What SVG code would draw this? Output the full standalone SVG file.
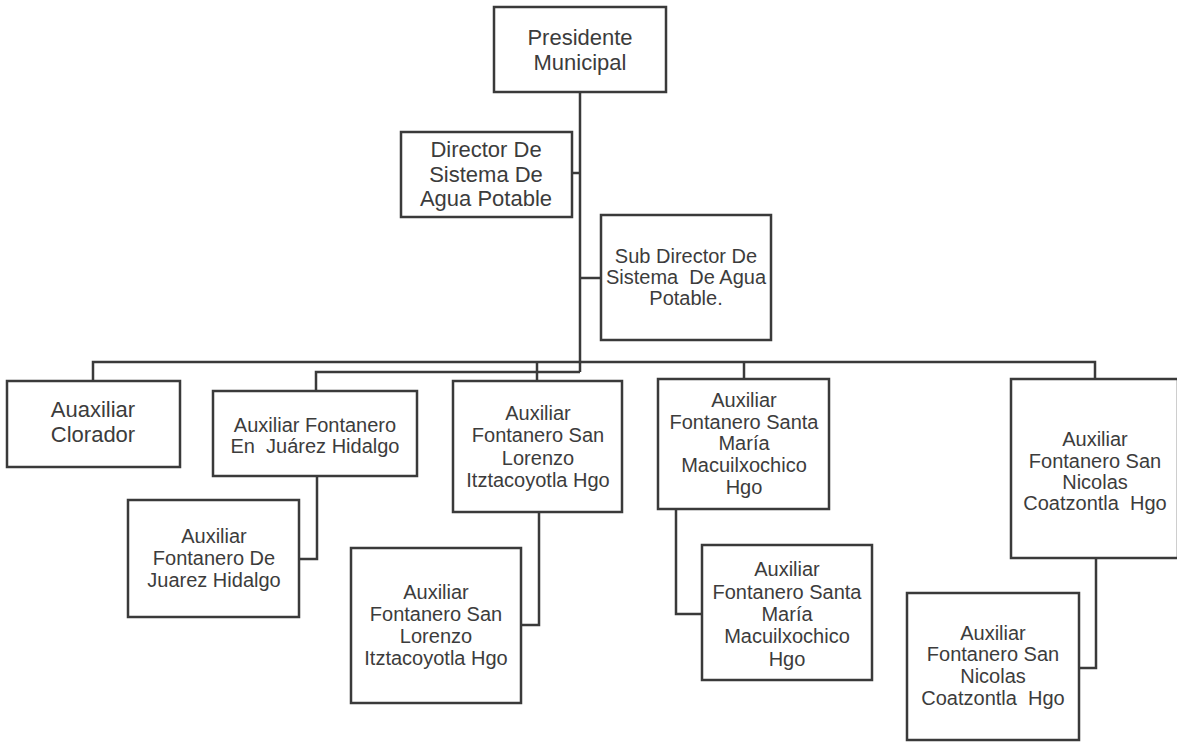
<svg xmlns="http://www.w3.org/2000/svg" width="1177" height="742" viewBox="0 0 1177 742">
  <style>
    .box { fill: #ffffff; stroke: #3a3a3a; stroke-width: 2.5; }
    .wire { fill: none; stroke: #3a3a3a; stroke-width: 2.5; }
    text { font-family: "Liberation Sans", Arial, sans-serif; fill: #3c3c3c; text-anchor: middle; white-space: pre; }
    .big { font-size: 22px; }
    .mid { font-size: 20px; }
  </style>
  <rect width="1177" height="742" fill="#ffffff"/>

  <!-- connectors -->
  <g id="connectors">
    <path class="wire" d="M580 92 V372"/>
    <path class="wire" d="M572 173 H580"/>
    <path class="wire" d="M580 278 H601"/>
    <path class="wire" d="M93 381 V362 H1095 V379"/>
    <path class="wire" d="M316 391 V372 H580"/>
    <path class="wire" d="M537 362 V381"/>
    <path class="wire" d="M744 362 V379"/>
    <path class="wire" d="M317 476 V559 H299"/>
    <path class="wire" d="M539 512 V625 H521"/>
    <path class="wire" d="M676 509 V614 H702"/>
    <path class="wire" d="M1096 558 V668 H1079"/>
  </g>

  <g id="presidente">
    <rect class="box" x="494" y="7" width="172" height="85"/>
    <text class="big" x="580" y="45">Presidente</text>
    <text class="big" x="580" y="70">Municipal</text>
  </g>

  <g id="director">
    <rect class="box" x="401" y="132" width="171" height="85"/>
    <text class="big" x="486" y="157">Director De</text>
    <text class="big" x="486" y="182">Sistema De</text>
    <text class="big" x="486" y="206">Agua Potable</text>
  </g>

  <g id="subdirector">
    <rect class="box" x="601" y="215" width="170" height="125"/>
    <text class="mid" x="686" y="263">Sub Director De</text>
    <text class="mid" x="686" y="284">Sistema  De Agua</text>
    <text class="mid" x="686" y="305">Potable.</text>
  </g>

  <g id="clorador">
    <rect class="box" x="7" y="381" width="173" height="86"/>
    <text class="big" x="93" y="417">Auaxiliar</text>
    <text class="big" x="93" y="442">Clorador</text>
  </g>

  <g id="juarez">
    <rect class="box" x="213" y="391" width="204" height="85"/>
    <text class="mid" x="315" y="432">Auxiliar Fontanero</text>
    <text class="mid" x="315" y="453">En  Juárez Hidalgo</text>
  </g>

  <g id="sanlorenzo">
    <rect class="box" x="453" y="381" width="169" height="131"/>
    <text class="mid" x="538" y="420">Auxiliar</text>
    <text class="mid" x="538" y="442">Fontanero San</text>
    <text class="mid" x="538" y="465">Lorenzo</text>
    <text class="mid" x="538" y="487">Itztacoyotla Hgo</text>
  </g>

  <g id="santamaria">
    <rect class="box" x="658" y="379" width="171" height="130"/>
    <text class="mid" x="744" y="407">Auxiliar</text>
    <text class="mid" x="744" y="429">Fontanero Santa</text>
    <text class="mid" x="744" y="450">María</text>
    <text class="mid" x="744" y="472">Macuilxochico</text>
    <text class="mid" x="744" y="494">Hgo</text>
  </g>

  <g id="sannicolas">
    <rect class="box" x="1011" y="379" width="167" height="179"/>
    <text class="mid" x="1095" y="446">Auxiliar</text>
    <text class="mid" x="1095" y="468">Fontanero San</text>
    <text class="mid" x="1095" y="489">Nicolas</text>
    <text class="mid" x="1095" y="510">Coatzontla  Hgo</text>
  </g>

  <g id="juarez-aux">
    <rect class="box" x="128" y="500" width="171" height="117"/>
    <text class="mid" x="214" y="543">Auxiliar</text>
    <text class="mid" x="214" y="565">Fontanero De</text>
    <text class="mid" x="214" y="587">Juarez Hidalgo</text>
  </g>

  <g id="sanlorenzo-aux">
    <rect class="box" x="351" y="548" width="170" height="155"/>
    <text class="mid" x="436" y="599">Auxiliar</text>
    <text class="mid" x="436" y="621">Fontanero San</text>
    <text class="mid" x="436" y="643">Lorenzo</text>
    <text class="mid" x="436" y="665">Itztacoyotla Hgo</text>
  </g>

  <g id="santamaria-aux">
    <rect class="box" x="702" y="545" width="170" height="135"/>
    <text class="mid" x="787" y="576">Auxiliar</text>
    <text class="mid" x="787" y="599">Fontanero Santa</text>
    <text class="mid" x="787" y="621">María</text>
    <text class="mid" x="787" y="643">Macuilxochico</text>
    <text class="mid" x="787" y="666">Hgo</text>
  </g>

  <g id="sannicolas-aux">
    <rect class="box" x="907" y="593" width="172" height="147"/>
    <text class="mid" x="993" y="640">Auxiliar</text>
    <text class="mid" x="993" y="661">Fontanero San</text>
    <text class="mid" x="993" y="683">Nicolas</text>
    <text class="mid" x="993" y="705">Coatzontla  Hgo</text>
  </g>
</svg>
